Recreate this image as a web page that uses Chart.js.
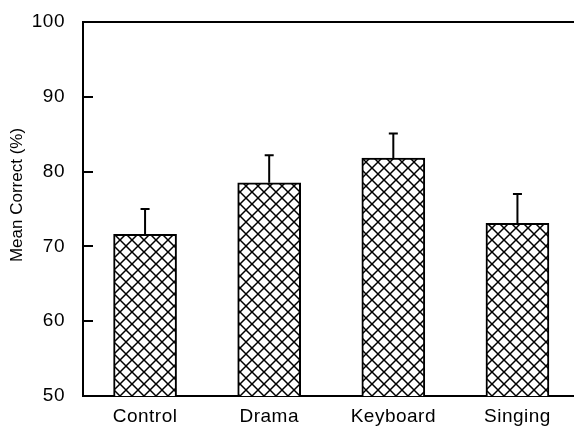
<!DOCTYPE html>
<html>
<head>
<meta charset="utf-8">
<script src="https://cdn.jsdelivr.net/npm/chart.js@4/dist/chart.umd.min.js"></script>
<style>
  html, body { margin: 0; padding: 0; background: #fff; overflow: hidden; }
  #wrap { width: 590px; height: 427px; position: relative; }
</style>
</head>
<body>
<div id="wrap"><canvas id="c"></canvas></div>
<script>
const categories = ['Control', 'Drama', 'Keyboard', 'Singing'];
const means = [71.6, 78.5, 81.8, 73.1];
const errors = [3.4, 3.7, 3.3, 3.9];
const yTicks = [50, 60, 70, 80, 90, 100];
const yTitle = 'Mean Correct (%)';

const FONT = '"Liberation Sans", Arial, Helvetica, sans-serif';

function makePattern() {
  const p = document.createElement('canvas');
  const s = 12;
  p.width = s; p.height = s;
  const g = p.getContext('2d');
  g.fillStyle = '#fff';
  g.fillRect(0, 0, s, s);
  g.strokeStyle = '#000';
  g.lineWidth = 1.5;
  g.beginPath();
  g.moveTo(-1, -1); g.lineTo(s + 1, s + 1);
  g.moveTo(s + 1, -1); g.lineTo(-1, s + 1);
  g.stroke();
  g.fillStyle = '#000';
  g.fillRect(s / 2 - 1, s / 2 - 1, 2, 2);
  g.fillRect(-1, -1, 2, 2); g.fillRect(s - 1, -1, 2, 2);
  g.fillRect(-1, s - 1, 2, 2); g.fillRect(s - 1, s - 1, 2, 2);
  const ctx = document.createElement('canvas').getContext('2d');
  return ctx.createPattern(p, 'repeat');
}

const spacingPlugin = {
  id: 'spacing',
  beforeDraw(chart) { chart.ctx.letterSpacing = '0.5px'; }
};

const decorPlugin = {
  id: 'decor',
  afterDatasetsDraw(chart) {
    const ctx = chart.ctx;
    const area = chart.chartArea;
    const y = chart.scales.y;
    const meta = chart.getDatasetMeta(0);
    ctx.save();
    ctx.letterSpacing = '0px';
    ctx.strokeStyle = '#000';
    // error bars (upper only)
    ctx.lineWidth = 2;
    meta.data.forEach((bar, i) => {
      const top = y.getPixelForValue(means[i]);
      const et = y.getPixelForValue(means[i] + errors[i]);
      ctx.beginPath();
      ctx.moveTo(bar.x, top);
      ctx.lineTo(bar.x, et);
      ctx.moveTo(bar.x - 4.5, et);
      ctx.lineTo(bar.x + 4.5, et);
      ctx.stroke();
    });
    // inward ticks
    yTicks.forEach(v => {
      if (v === y.min || v === y.max) return;
      const py = Math.round(y.getPixelForValue(v));
      ctx.beginPath();
      ctx.moveTo(area.left, py);
      ctx.lineTo(area.left + 10, py);
      ctx.stroke();
    });
    // top line
    ctx.beginPath();
    ctx.moveTo(area.left - 1, area.top);
    ctx.lineTo(area.right + 20, area.top);
    ctx.stroke();
    // y title
    ctx.fillStyle = '#000';
    ctx.font = '17px ' + FONT;
    ctx.textAlign = 'center';
    ctx.textBaseline = 'middle';
    ctx.translate(17, 195);
    ctx.rotate(-Math.PI / 2);
    ctx.fillText(yTitle, 0, 0);
    ctx.restore();
  }
};

new Chart(document.getElementById('c'), {
  type: 'bar',
  data: {
    labels: categories,
    datasets: [{
      data: means,
      backgroundColor: makePattern(),
      borderColor: '#000',
      borderWidth: 2,
      barThickness: 63
    }]
  },
  options: {
    responsive: true,
    maintainAspectRatio: false,
    animation: false,
    devicePixelRatio: 1,
    layout: { padding: { top: 22, right: 10.5, bottom: 0, left: 0 } },
    plugins: { legend: { display: false }, tooltip: { enabled: false } },
    scales: {
      x: {
        grid: { display: false, drawTicks: false },
        border: { display: true, color: '#000', width: 2 },
        ticks: { color: '#000', font: { family: FONT, size: 19 }, padding: 9, maxRotation: 0 },
        afterFit(s) { s.height = 31; }
      },
      y: {
        min: 50, max: 100,
        grid: { display: true, drawOnChartArea: false, drawTicks: true, tickLength: 18, color: 'rgba(0,0,0,0)', tickColor: 'rgba(0,0,0,0)' },
        border: { display: true, color: '#000', width: 2 },
        afterBuildTicks(s) { s.ticks = yTicks.map(v => ({ value: v })); },
        ticks: { color: '#000', font: { family: FONT, size: 19 }, padding: 0 },
        afterFit(s) { s.width = 83; }
      }
    }
  },
  plugins: [spacingPlugin, decorPlugin]
});
</script>
</body>
</html>
